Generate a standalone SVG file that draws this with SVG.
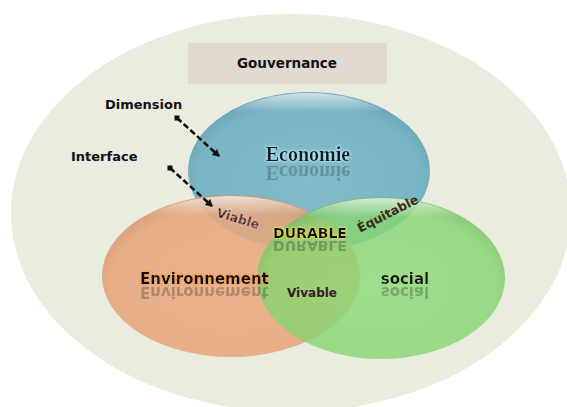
<svg xmlns="http://www.w3.org/2000/svg" xmlns:xlink="http://www.w3.org/1999/xlink" width="567" height="407" viewBox="0 0 567 407">
<style>
.lbl{font-family:"DejaVu Sans","Verdana",sans-serif;font-weight:bold;fill:#111}
.mid{text-anchor:middle}
.ref{opacity:0.26}
.conn{stroke:#111;stroke-width:2.6;stroke-dasharray:6 3;fill:none}
</style>
<defs>
<radialGradient id="gBlue" cx="50%" cy="55%" r="55%">
<stop offset="0" stop-color="#82bccb"/><stop offset="0.85" stop-color="#7ab5c5"/><stop offset="1" stop-color="#6aa4b6"/>
</radialGradient>
<radialGradient id="gOrange" cx="50%" cy="55%" r="55%">
<stop offset="0" stop-color="#eaaa80"/><stop offset="0.85" stop-color="#e6a57a"/><stop offset="1" stop-color="#d6926a"/>
</radialGradient>
<radialGradient id="gGreen" cx="50%" cy="55%" r="55%">
<stop offset="0" stop-color="#8cda78"/><stop offset="0.85" stop-color="#86d470"/><stop offset="1" stop-color="#70c05c"/>
</radialGradient>
<linearGradient id="rim" x1="0" y1="0" x2="0" y2="1">
<stop offset="0" stop-color="#fff" stop-opacity="0.7"/><stop offset="0.12" stop-color="#fff" stop-opacity="0"/>
</linearGradient>
<filter id="glowB" x="-20%" y="-40%" width="140%" height="180%">
<feGaussianBlur in="SourceAlpha" stdDeviation="1.8" result="b"/>
<feFlood flood-color="#bfe9f5" result="c"/>
<feComposite in="c" in2="b" operator="in" result="g"/>
<feMerge><feMergeNode in="g"/><feMergeNode in="g"/><feMergeNode in="SourceGraphic"/></feMerge>
</filter>
<filter id="glowO" x="-20%" y="-40%" width="140%" height="180%">
<feGaussianBlur in="SourceAlpha" stdDeviation="1.8" result="b"/>
<feFlood flood-color="#f0a050" result="c"/>
<feComposite in="c" in2="b" operator="in" result="g"/>
<feMerge><feMergeNode in="g"/><feMergeNode in="g"/><feMergeNode in="SourceGraphic"/></feMerge>
</filter>
<filter id="glowG" x="-20%" y="-40%" width="140%" height="180%">
<feGaussianBlur in="SourceAlpha" stdDeviation="1.8" result="b"/>
<feFlood flood-color="#9ee07a" result="c"/>
<feComposite in="c" in2="b" operator="in" result="g"/>
<feMerge><feMergeNode in="g"/><feMergeNode in="g"/><feMergeNode in="SourceGraphic"/></feMerge>
</filter>
<filter id="glowY" x="-20%" y="-40%" width="140%" height="180%">
<feGaussianBlur in="SourceAlpha" stdDeviation="1.8" result="b"/>
<feFlood flood-color="#e8e050" result="c"/>
<feComposite in="c" in2="b" operator="in" result="g"/>
<feMerge><feMergeNode in="g"/><feMergeNode in="g"/><feMergeNode in="SourceGraphic"/></feMerge>
</filter>
<filter id="glowW" x="-20%" y="-40%" width="140%" height="180%">
<feGaussianBlur in="SourceAlpha" stdDeviation="1.2" result="b"/>
<feFlood flood-color="#f2d8c8" flood-opacity="0.8" result="c"/>
<feComposite in="c" in2="b" operator="in" result="g"/>
<feMerge><feMergeNode in="g"/><feMergeNode in="SourceGraphic"/></feMerge>
</filter>
<marker id="sq" markerWidth="6" markerHeight="6" refX="3" refY="3" markerUnits="userSpaceOnUse">
<rect x="0.5" y="0.5" width="5" height="5" fill="#111"/>
</marker>
<marker id="arr" markerWidth="10" markerHeight="10" refX="7" refY="5" orient="auto" markerUnits="userSpaceOnUse">
<path d="M1,1 L8,5 L1,9 Z" fill="#111"/>
</marker>
<text id="tEco" x="308" y="161" text-anchor="middle" font-family="Liberation Serif,serif" font-weight="bold" font-size="20" fill="#0f1f2a">Economie</text>
<text id="tEnv" class="lbl" x="140" y="284" font-size="15">Environnement</text>
<text id="tSoc" class="lbl mid" x="405" y="284" font-size="15">social</text>
<text id="tDur" class="lbl mid" x="310" y="238" font-size="14">DURABLE</text>
</defs>
<rect width="567" height="407" fill="#fff"/>
<g id="gouvernance-zone">
<ellipse cx="291" cy="213" rx="280" ry="199" fill="#e9ecdf"/>
</g>
<g id="gouvernance">
<rect x="188" y="43" width="199" height="41" fill="#e1dad0"/>
<text class="lbl mid" x="287" y="68" font-size="13.5">Gouvernance</text>
</g>
<g id="economie">
<ellipse cx="309" cy="171" rx="121" ry="79" fill="url(#gBlue)"/>
<ellipse cx="309" cy="171" rx="120" ry="78" fill="url(#rim)"/>
<use href="#tEco" xlink:href="#tEco" filter="url(#glowB)"/>
<use href="#tEco" xlink:href="#tEco" class="ref" transform="translate(0,327) scale(1,-1)"/>
</g>
<g id="environnement">
<ellipse cx="231" cy="276" rx="129" ry="81" fill="url(#gOrange)" fill-opacity="0.86"/>
<ellipse cx="231" cy="276" rx="128" ry="80" fill="url(#rim)"/>
</g>
<g id="social">
<ellipse cx="381" cy="278" rx="124" ry="81" fill="url(#gGreen)" fill-opacity="0.8"/>
<ellipse cx="381" cy="278" rx="123" ry="80" fill="url(#rim)"/>
</g>
<g id="labels">
<use href="#tEnv" xlink:href="#tEnv" filter="url(#glowO)"/>
<use href="#tEnv" xlink:href="#tEnv" class="ref" transform="translate(0,571) scale(1,-1)"/>
<use href="#tSoc" xlink:href="#tSoc" filter="url(#glowG)"/>
<use href="#tSoc" xlink:href="#tSoc" class="ref" transform="translate(0,571) scale(1,-1)"/>
<use href="#tDur" xlink:href="#tDur" filter="url(#glowY)"/>
<use href="#tDur" xlink:href="#tDur" class="ref" transform="translate(0,479) scale(1,-1)"/>
<text class="lbl mid" x="312" y="297" font-size="12" style="fill:#3a1a22">Vivable</text>
<text class="lbl mid" transform="translate(238,219) rotate(17)" x="0" y="4" font-size="12.5" style="fill:#4a1525" filter="url(#glowW)">Viable</text>
<text class="lbl mid" transform="translate(388,214) rotate(-27)" x="0" y="4" font-size="12.5" style="fill:#3e2a18">Équitable</text>
</g>
<g id="dimension">
<text class="lbl" x="105" y="109" font-size="13">Dimension</text>
</g>
<g id="interface">
<text class="lbl" x="71" y="161" font-size="13">Interface</text>
</g>
<g id="connectors">
<path class="conn" d="M177,118 L219,156" marker-start="url(#sq)" marker-end="url(#arr)"/>
<path class="conn" d="M170,168 L212,206" marker-start="url(#sq)" marker-end="url(#arr)"/>
</g>
</svg>
